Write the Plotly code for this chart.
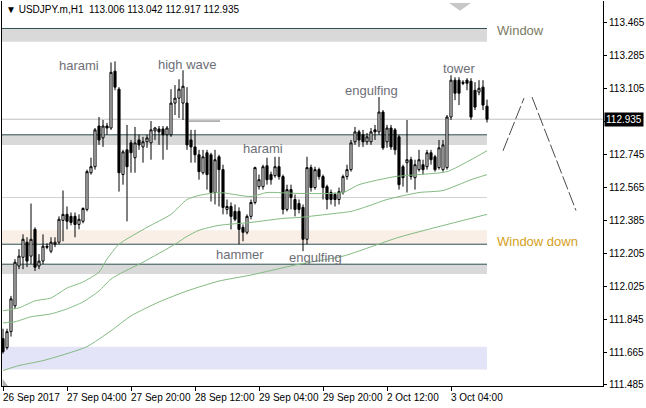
import plotly.graph_objects as go

# ---- data -------------------------------------------------------------
bars = list(range(122))
opens = [111.738,111.689,111.776,111.917,112.134,112.182,112.264,112.188,112.334,112.134,
         112.161,112.242,112.215,112.253,112.264,112.383,112.416,112.405,112.405,112.361,
         112.378,112.443,112.643,112.676,112.898,112.833,112.898,112.887,113.197,113.099,
         112.633,112.768,112.806,112.725,112.822,112.784,112.812,112.806,112.871,112.882,
         112.882,112.850,112.850,113.023,113.050,113.023,113.023,112.822,112.784,112.741,
         112.643,112.752,112.741,112.535,112.730,112.660,112.443,112.459,112.432,112.432,
         112.345,112.318,112.405,112.481,112.567,112.567,112.681,112.633,112.627,112.676,
         112.622,112.443,112.551,112.497,112.475,112.454,112.280,112.671,112.562,112.660,
         112.622,112.567,112.535,112.524,112.497,112.535,112.622,112.660,112.812,112.866,
         112.850,112.812,112.812,112.877,112.866,112.974,112.812,112.887,112.877,112.839,
         112.676,112.698,112.714,112.616,112.660,112.687,112.676,112.752,112.730,112.671,
         112.660,112.671,112.947,113.148,113.148,113.137,113.148,113.142,113.093,113.083,
         113.110,113.006]
highs = [111.792,111.792,111.971,112.172,112.226,112.307,112.291,112.475,112.345,112.199,
         112.307,112.258,112.291,112.291,112.405,112.546,112.459,112.426,112.426,112.416,
         112.454,112.660,112.725,112.887,112.947,112.931,112.915,113.245,113.251,113.110,
         112.768,112.904,112.822,112.893,112.850,112.839,112.850,112.925,112.893,112.898,
         112.898,112.898,113.099,113.121,113.153,113.202,113.110,112.877,112.877,112.768,
         112.768,112.768,112.752,112.768,112.741,112.687,112.497,112.481,112.470,112.454,
         112.361,112.416,112.497,112.676,112.633,112.687,112.725,112.649,112.730,112.730,
         112.633,112.578,112.578,112.524,112.497,112.470,112.730,112.687,112.676,112.671,
         112.633,112.578,112.551,112.535,112.562,112.633,112.687,112.822,112.893,112.877,
         112.877,112.860,112.887,112.904,113.056,112.985,112.904,112.904,112.887,112.850,
         112.687,112.931,112.730,112.714,112.768,112.714,112.768,112.768,112.741,112.822,
         112.822,112.958,113.175,113.164,113.164,113.148,113.159,113.159,113.137,113.148,
         113.148,113.042]
lows = [111.656,111.678,111.749,111.900,112.117,112.117,112.128,112.144,112.107,112.117,
        112.144,112.226,112.204,112.237,112.253,112.269,112.334,112.356,112.291,112.334,
        112.367,112.432,112.633,112.660,112.795,112.784,112.850,112.877,113.093,112.540,
        112.578,112.378,112.643,112.643,112.768,112.698,112.779,112.714,112.822,112.795,
        112.714,112.768,112.839,112.958,112.942,112.931,112.768,112.698,112.698,112.605,
        112.633,112.551,112.486,112.470,112.459,112.416,112.416,112.334,112.378,112.253,
        112.269,112.307,112.389,112.470,112.551,112.551,112.578,112.578,112.616,112.605,
        112.416,112.432,112.443,112.405,112.421,112.215,112.253,112.540,112.551,112.605,
        112.497,112.443,112.470,112.459,112.470,112.524,112.605,112.649,112.795,112.784,
        112.784,112.795,112.795,112.822,112.850,112.768,112.779,112.768,112.741,112.551,
        112.567,112.535,112.605,112.551,112.649,112.633,112.660,112.687,112.649,112.660,
        112.649,112.660,112.931,113.039,113.012,113.121,113.093,112.931,112.985,113.066,
        112.985,112.917]
closes = [111.667,111.776,111.955,112.155,112.188,112.280,112.161,112.280,112.128,112.161,
          112.242,112.237,112.264,112.264,112.389,112.416,112.378,112.372,112.361,112.389,
          112.448,112.649,112.676,112.877,112.822,112.898,112.887,113.191,113.110,112.643,
          112.757,112.676,112.752,112.806,112.795,112.812,112.833,112.877,112.887,112.866,
          112.850,112.887,113.023,113.050,113.099,113.115,112.795,112.784,112.741,112.649,
          112.730,112.633,112.535,112.714,112.660,112.454,112.459,112.405,112.389,112.334,
          112.318,112.405,112.481,112.671,112.605,112.676,112.605,112.605,112.676,112.622,
          112.443,112.551,112.508,112.443,112.443,112.280,112.671,112.562,112.660,112.622,
          112.562,112.497,112.497,112.497,112.540,112.622,112.660,112.806,112.866,112.822,
          112.812,112.839,112.866,112.866,112.974,112.779,112.887,112.784,112.768,112.578,
          112.616,112.714,112.622,112.687,112.714,112.660,112.752,112.714,112.660,112.779,
          112.795,112.947,113.148,113.077,113.077,113.131,113.131,112.947,113.001,113.104,
          113.012,112.935]

# moving averages (read at selected bars)
ma1_x = [0,4,8,12,16,20,24,26,29,36,42,46,49,54,62,66,74,85,89,98,104,111,117,121]
ma1_y = [111.890,111.906,111.944,111.960,112.014,112.047,112.101,112.172,112.253,112.345,
         112.416,112.497,112.519,112.535,112.513,112.535,112.530,112.535,112.578,112.622,
         112.633,112.649,112.714,112.763]
ma2_x = [0,3,7,12,16,20,24,27,30,35,43,46,49,54,62,70,74,83,87,91,96,104,110,117,121]
ma2_y = [111.824,111.830,111.857,111.873,111.900,111.938,111.998,112.063,112.101,112.155,
         112.253,112.296,112.329,112.356,112.372,112.394,112.399,112.421,112.432,112.459,
         112.497,112.535,112.546,112.605,112.633]
ma3_x = [0,4,10,16,21,27,32,39,46,54,62,74,85,99,121]
ma3_y = [111.564,111.591,111.618,111.656,111.694,111.781,111.862,111.938,111.998,112.052,
         112.085,112.144,112.188,112.291,112.416]

# zones (price bands) and levels
zone_gray1 = (113.357, 113.430)
zone_gray2 = (112.795, 112.850)
zone_peach = (112.253, 112.329)
zone_gray3 = (112.090, 112.144)
zone_lav = (111.570, 111.694)
dark_levels = [113.430, 112.850, 112.253, 112.144]
light_level = 112.508
bid = 112.935
short_level = (46.25, 54.25, 112.925)

# projection (hand-drawn trend lines)
proj1_x = [125, 130.25]
proj1_y = [112.763, 113.050]
proj2_x = [132.25, 143.25]
proj2_y = [113.056, 112.437]

# labels
ytick_vals = [113.465, 113.285, 113.105, 112.925, 112.745, 112.565, 112.385, 112.205,
              112.025, 111.845, 111.665, 111.485]
ytick_text = ["113.465", "113.285", "113.105", "", "112.745", "112.565", "112.385",
              "112.205", "112.025", "111.845", "111.665", "111.485"]
xtick_vals = [0, 16, 32, 48, 64, 80, 96, 112]
xtick_text = ["26 Sep 2017", "27 Sep 04:00", "27 Sep 20:00", "28 Sep 12:00",
              "29 Sep 04:00", "29 Sep 20:00", "2 Oct 12:00", "3 Oct 04:00"]
patterns = [("harami", 19.1, 113.228), ("high wave", 46.0, 113.235),
            ("harami", 65.0, 112.778), ("hammer", 59.25, 112.199),
            ("engulfing", 78.0, 112.183), ("engulfing", 92.1, 113.094),
            ("tower", 114.0, 113.214)]
last_bar = 121
XR = [-0.25, 150]
YR = [111.4795, 113.580]

FONT = "Liberation Sans, Arial, sans-serif"

fig = go.Figure()

fig.add_trace(go.Candlestick(
    x=bars, open=opens, high=highs, low=lows, close=closes,
    increasing=dict(line=dict(color="black", width=1), fillcolor="white"),
    decreasing=dict(line=dict(color="black", width=1), fillcolor="black"),
    whiskerwidth=0, hoverinfo="skip", showlegend=False))

for xs, ys in [(ma1_x, ma1_y), (ma2_x, ma2_y), (ma3_x, ma3_y)]:
    fig.add_trace(go.Scatter(x=xs, y=ys, mode="lines",
                             line=dict(color="#82bb82", width=1, shape="spline", smoothing=0.6),
                             hoverinfo="skip", showlegend=False))

for xs, ys in [(proj1_x, proj1_y), (proj2_x, proj2_y)]:
    fig.add_trace(go.Scatter(x=xs, y=ys, mode="lines",
                             line=dict(color="#4a4a4a", width=1, dash="14px,3px"),
                             hoverinfo="skip", showlegend=False))

shapes = []
for (lo, hi), col in [(zone_gray1, "#d9d9d9"), (zone_gray2, "#d9d9d9"), (zone_peach, "#f9efe6"),
                      (zone_gray3, "#d9d9d9"), (zone_lav, "#e4e4f8")]:
    shapes.append(dict(type="rect", xref="x", yref="y", x0=XR[0], x1=last_bar, y0=lo, y1=hi,
                       fillcolor=col, line=dict(width=0), layer="below"))
for lv in dark_levels:
    shapes.append(dict(type="line", xref="x", yref="y", x0=XR[0], x1=last_bar, y0=lv, y1=lv,
                       line=dict(color="#2f4f4f", width=1), layer="below"))
shapes.append(dict(type="line", xref="x", yref="y", x0=XR[0], x1=last_bar, y0=light_level,
                   y1=light_level, line=dict(color="#d3d3d3", width=1), layer="below"))
shapes.append(dict(type="line", xref="paper", yref="y", x0=0, x1=1, y0=bid, y1=bid,
                   line=dict(color="#c0c0c0", width=1), layer="below"))
shapes.append(dict(type="line", xref="x", yref="y", x0=short_level[0], x1=short_level[1],
                   y0=short_level[2], y1=short_level[2], line=dict(color="#707070", width=1)))
# shift marker (top) and scroll marker (bottom-left)
shapes.append(dict(type="path", xref="x", yref="paper",
                   path="M 111.5 0.995 L 114.25 0.975 L 117 0.995 Z",
                   fillcolor="#c8c8c8", line=dict(width=0)))
shapes.append(dict(type="path", xref="paper", yref="paper",
                   path="M 0.001 0.0 L 0.001 0.018 L 0.010 0.0 Z",
                   fillcolor="#b0b0b0", line=dict(width=0)))

ann = []
ann.append(dict(xref="paper", yref="paper", x=0.004, y=0.977, xanchor="left", yanchor="middle",
                text="\u25bc USDJPY.m,H1  113.006 113.042 112.917 112.935", showarrow=False,
                font=dict(family=FONT, size=10, color="black")))
for t, x, y in patterns:
    ann.append(dict(xref="x", yref="y", x=x, y=y, text=t, showarrow=False,
                    font=dict(family=FONT, size=13, color="#6e6e78")))
ann.append(dict(xref="x", yref="y", x=123, y=113.421, text="Window", showarrow=False,
                xanchor="left", font=dict(family=FONT, size=13, color="#7a7a62")))
ann.append(dict(xref="x", yref="y", x=123, y=112.270, text="Window down", showarrow=False,
                xanchor="left", font=dict(family=FONT, size=13, color="#d4a020")))
for v, t in zip(xtick_vals, xtick_text):
    ann.append(dict(xref="x", yref="paper", x=v, y=0, yshift=-4, xanchor="left", yanchor="top",
                    xshift=-2, text=t, showarrow=False,
                    font=dict(family=FONT, size=10, color="black")))
ann.append(dict(xref="paper", yref="y", x=1, y=bid, xanchor="left", yanchor="middle",
                xshift=1, text="112.935", showarrow=False, bgcolor="black", borderpad=1,
                font=dict(family=FONT, size=10, color="white")))

fig.update_layout(
    width=646, height=408, margin=dict(l=2, r=43, t=1, b=22, autoexpand=False),
    paper_bgcolor="white", plot_bgcolor="white",
    shapes=shapes, annotations=ann, boxgap=0.25,
    xaxis=dict(range=XR, showgrid=False, zeroline=False, showline=True, linecolor="black",
               linewidth=1, ticks="outside", ticklen=4, tickcolor="black",
               tickvals=xtick_vals, showticklabels=False, rangeslider=dict(visible=False),
               fixedrange=True),
    yaxis=dict(range=YR, side="right", showgrid=False, zeroline=False, showline=True,
               mirror=True, linecolor="black", linewidth=1, ticks="outside", ticklen=3,
               tickcolor="black", tickvals=ytick_vals, ticktext=ytick_text,
               tickfont=dict(family=FONT, size=10, color="black"), fixedrange=True),
    hovermode=False,
)

fig.write_html("out.html", config={"displayModeBar": False},
               post_script="document.body.style.margin='0';document.body.style.overflow='hidden';")
